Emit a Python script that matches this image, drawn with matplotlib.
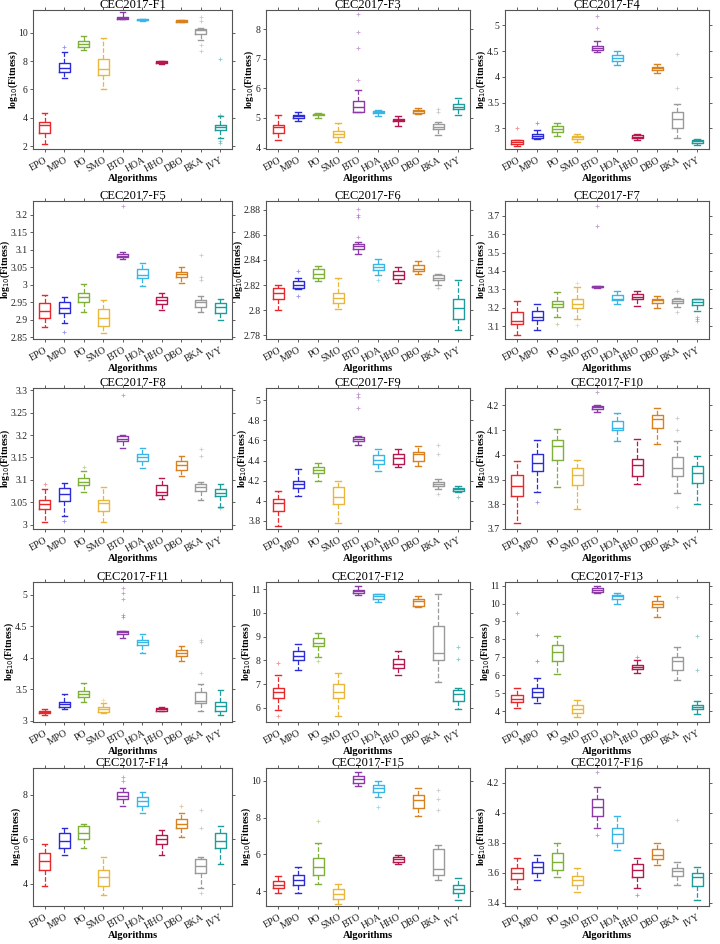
import matplotlib
matplotlib.use("Agg")
import matplotlib.pyplot as plt
from matplotlib.ticker import FormatStrFormatter

plt.rcParams["font.family"] = ["Liberation Serif", "DejaVu Serif"]

ALGOS = ["EPO", "MPO", "PO", "SMO", "BTO", "HOA", "HHO", "DBO", "BKA", "IVY"]
COLORS = ["#e8282b", "#2b2bd8", "#7fb03a", "#e9b83a", "#8b3aa8",
          "#39b5e6", "#b5174e", "#d9811e", "#9a9a9a", "#1e9b9b"]

# per algorithm: (whisker low, q1, median, q3, whisker high)
F1_BOX = [(2.17, 2.93, 3.46, 3.7, 4.32), (6.8, 7.24, 7.54, 7.85, 8.63), (8.76, 9.0, 9.2, 9.39, 9.8),
          (6.02, 7.02, 7.41, 8.17, 9.6), (11.0, 11.0, 11.05, 11.1, 11.44), (10.8, 10.86, 10.9, 10.95, 11.0),
          (7.78, 7.88, 7.95, 8.0, 8.02), (10.75, 10.78, 10.82, 10.86, 10.88), (9.49, 9.88, 10.17, 10.25, 10.3),
          (2.6, 3.15, 3.34, 3.49, 4.1)]
F1_OUT = [[], [9.0], [], [], [], [], [], [], [11.1, 10.8, 9.1, 8.7], [8.17, 4.2, 2.36, 2.25]]

F3_BOX = [(4.26, 4.5, 4.69, 4.76, 5.11), (4.91, 5.01, 5.07, 5.11, 5.21), (5.0, 5.09, 5.13, 5.15, 5.18),
          (4.2, 4.36, 4.47, 4.56, 4.83), (5.2, 5.21, 5.36, 5.58, 5.95), (5.05, 5.16, 5.19, 5.22, 5.27),
          (4.72, 4.88, 4.93, 4.98, 5.08), (5.12, 5.18, 5.22, 5.26, 5.33), (4.44, 4.62, 4.7, 4.78, 4.85),
          (5.1, 5.31, 5.38, 5.47, 5.68)]
F3_OUT = [[], [], [], [], [6.28, 7.37, 7.9, 8.5], [], [], [], [5.2, 5.3], []]

F4_BOX = [(2.65, 2.69, 2.73, 2.77, 2.78), (2.79, 2.82, 2.86, 2.9, 2.96), (2.86, 2.93, 2.99, 3.04, 3.1),
          (2.74, 2.79, 2.83, 2.86, 2.9), (4.49, 4.53, 4.57, 4.61, 4.69), (4.24, 4.3, 4.36, 4.43, 4.5),
          (2.77, 2.81, 2.84, 2.88, 2.89), (4.08, 4.13, 4.17, 4.2, 4.25), (2.81, 3.01, 3.18, 3.31, 3.47),
          (2.68, 2.72, 2.75, 2.78, 2.79)]
F4_OUT = [[3.01], [3.1], [], [], [4.95, 5.18], [], [], [], [3.78, 4.45], []]

F5_BOX = [(2.878, 2.905, 2.926, 2.948, 2.972), (2.89, 2.918, 2.935, 2.95, 2.965), (2.922, 2.952, 2.966, 2.978, 3.002),
          (2.862, 2.882, 2.906, 2.932, 2.958), (3.075, 3.08, 3.084, 3.088, 3.094), (2.996, 3.02, 3.028, 3.045, 3.062),
          (2.927, 2.945, 2.956, 2.965, 2.977), (3.005, 3.022, 3.03, 3.037, 3.05), (2.922, 2.937, 2.95, 2.958, 2.968),
          (2.9, 2.92, 2.936, 2.948, 2.96)]
F5_OUT = [[], [2.866], [], [], [3.225], [], [], [], [3.015, 3.022, 3.085], []]

F6_BOX = [(2.8, 2.809, 2.814, 2.818, 2.82), (2.817, 2.818, 2.82, 2.823, 2.826), (2.823, 2.826, 2.829, 2.833, 2.835),
          (2.801, 2.806, 2.81, 2.814, 2.826), (2.845, 2.849, 2.851, 2.853, 2.854), (2.828, 2.832, 2.834, 2.837, 2.841),
          (2.822, 2.825, 2.828, 2.831, 2.834), (2.829, 2.831, 2.833, 2.836, 2.839), (2.82, 2.824, 2.826, 2.828, 2.829),
          (2.784, 2.793, 2.802, 2.809, 2.824)]
F6_OUT = [[], [2.811, 2.831], [], [], [2.858, 2.874, 2.876, 2.881], [2.824], [], [], [2.818, 2.843, 2.847], []]

F7_BOX = [(3.05, 3.11, 3.13, 3.175, 3.235), (3.08, 3.135, 3.15, 3.18, 3.22), (3.15, 3.205, 3.22, 3.235, 3.285),
          (3.14, 3.2, 3.22, 3.25, 3.31), (3.305, 3.31, 3.315, 3.318, 3.32), (3.22, 3.24, 3.25, 3.27, 3.29),
          (3.21, 3.25, 3.26, 3.275, 3.29), (3.2, 3.225, 3.24, 3.25, 3.265), (3.205, 3.225, 3.235, 3.245, 3.255),
          (3.18, 3.215, 3.23, 3.245, 3.25)]
F7_OUT = [[], [], [3.11], [3.105, 3.335], [3.645, 3.755], [], [], [], [3.175, 3.29], [3.13, 3.14, 3.15]]

F8_BOX = [(3.005, 3.035, 3.045, 3.055, 3.08), (3.018, 3.052, 3.068, 3.082, 3.092), (3.072, 3.088, 3.096, 3.103, 3.12),
          (3.006, 3.03, 3.047, 3.055, 3.083), (3.17, 3.186, 3.192, 3.197, 3.201), (3.127, 3.143, 3.15, 3.157, 3.172),
          (3.058, 3.066, 3.073, 3.088, 3.104), (3.108, 3.122, 3.132, 3.142, 3.153), (3.055, 3.076, 3.084, 3.091, 3.095),
          (3.04, 3.063, 3.07, 3.079, 3.09)]
F8_OUT = [[3.09], [3.008], [3.128], [], [3.29], [], [], [], [3.152, 3.168], [3.038]]

F9_BOX = [(3.75, 3.9, 3.98, 4.02, 4.1), (4.05, 4.13, 4.17, 4.2, 4.32), (4.2, 4.28, 4.31, 4.34, 4.38),
          (3.78, 3.97, 4.04, 4.14, 4.2), (4.55, 4.59, 4.61, 4.63, 4.64), (4.3, 4.37, 4.41, 4.45, 4.51),
          (4.34, 4.37, 4.42, 4.46, 4.51), (4.35, 4.4, 4.46, 4.48, 4.54), (4.12, 4.15, 4.17, 4.19, 4.22),
          (4.09, 4.1, 4.12, 4.13, 4.15)]
F9_OUT = [[], [], [], [], [4.92, 5.03, 5.06], [], [], [], [4.07, 4.46, 4.55], [4.04]]

F10_BOX = [(3.725, 3.832, 3.873, 3.917, 3.975), (3.85, 3.935, 3.968, 4.005, 4.06), (3.868, 3.978, 4.035, 4.058, 4.103),
           (3.78, 3.878, 3.918, 3.945, 3.977), (4.172, 4.185, 4.193, 4.198, 4.203), (4.055, 4.1, 4.11, 4.138, 4.17),
           (3.88, 3.915, 3.96, 3.985, 4.063), (4.042, 4.11, 4.145, 4.16, 4.19), (3.845, 3.915, 3.945, 3.99, 4.057),
           (3.8, 3.885, 3.925, 3.955, 3.995)]
F10_OUT = [[], [3.81], [], [], [4.252], [], [], [], [3.79, 4.1, 4.15], []]

F11_BOX = [(3.09, 3.12, 3.14, 3.16, 3.18), (3.18, 3.22, 3.26, 3.3, 3.42), (3.3, 3.38, 3.42, 3.47, 3.6),
           (3.12, 3.14, 3.18, 3.21, 3.28), (4.31, 4.37, 4.4, 4.43, 4.43), (4.08, 4.2, 4.25, 4.28, 4.38),
           (3.15, 3.16, 3.18, 3.2, 3.22), (3.95, 4.03, 4.08, 4.12, 4.18), (3.15, 3.28, 3.31, 3.45, 3.58),
           (3.09, 3.15, 3.23, 3.3, 3.48)]
F11_OUT = [[], [], [], [3.33], [4.65, 4.68, 4.93, 5.02, 5.1], [], [], [], [3.76, 4.25, 4.28], []]

F12_BOX = [(5.9, 6.4, 6.65, 6.85, 7.4), (7.6, 8.0, 8.2, 8.4, 8.7), (8.15, 8.6, 8.75, 8.95, 9.15),
           (5.65, 6.4, 6.65, 7.0, 7.45), (10.75, 10.85, 10.9, 10.95, 11.12), (10.45, 10.6, 10.7, 10.78, 10.8),
           (7.4, 7.68, 7.85, 8.05, 8.4), (10.25, 10.3, 10.5, 10.6, 10.7), (7.1, 8.0, 8.3, 9.45, 10.8),
           (5.95, 6.3, 6.6, 6.75, 6.85)]
F12_OUT = [[5.65, 7.9], [], [7.95], [], [], [], [], [], [], [8.05, 8.55]]

F13_BOX = [(4.2, 4.5, 4.7, 4.9, 5.3), (4.45, 4.8, 5.05, 5.3, 5.85), (6.1, 6.8, 7.3, 7.7, 8.2),
           (3.7, 3.9, 4.1, 4.35, 4.65), (10.6, 10.65, 10.75, 10.85, 11.0), (9.95, 10.25, 10.4, 10.5, 10.6),
           (6.15, 6.35, 6.45, 6.6, 6.85), (9.25, 9.8, 9.95, 10.15, 10.4), (5.75, 6.3, 6.8, 7.0, 7.6),
           (3.85, 4.1, 4.25, 4.35, 4.55)]
F13_OUT = [[9.45], [6.8, 8.25], [], [], [], [], [7.0], [], [10.35], [6.3, 8.2]]

F14_BOX = [(3.9, 4.6, 5.0, 5.4, 5.8), (5.3, 5.6, 5.9, 6.3, 6.5), (5.6, 6.0, 6.3, 6.6, 6.7),
           (3.5, 3.9, 4.3, 4.6, 5.2), (7.5, 7.8, 7.95, 8.1, 8.3), (7.2, 7.5, 7.7, 7.9, 8.1),
           (5.3, 5.8, 6.0, 6.2, 6.4), (6.1, 6.5, 6.7, 6.9, 7.2), (3.8, 4.5, 4.8, 5.1, 5.2),
           (4.9, 5.6, 5.9, 6.3, 6.6)]
F14_OUT = [[], [], [], [], [8.6, 8.8], [], [], [7.5], [3.6, 6.5, 7.3], []]

F15_BOX = [(3.9, 4.2, 4.35, 4.55, 4.85), (3.9, 4.35, 4.6, 4.9, 5.3), (4.4, 4.9, 5.3, 5.8, 6.6),
           (3.3, 3.6, 3.85, 4.1, 4.4), (9.7, 9.9, 10.1, 10.25, 10.5), (9.1, 9.4, 9.6, 9.8, 10.0),
           (5.5, 5.6, 5.75, 5.85, 5.95), (8.1, 8.5, 8.95, 9.25, 9.6), (4.6, 4.9, 5.2, 6.3, 6.5),
           (3.5, 3.9, 4.1, 4.35, 4.7)]
F15_OUT = [[], [], [7.8], [], [], [8.6], [], [], [8.4, 9.0, 9.5], []]

F16_BOX = [(3.49, 3.56, 3.6, 3.63, 3.7), (3.55, 3.6, 3.64, 3.67, 3.72), (3.57, 3.62, 3.67, 3.73, 3.8),
           (3.47, 3.52, 3.55, 3.58, 3.63), (3.9, 3.98, 4.04, 4.09, 4.17), (3.75, 3.8, 3.86, 3.9, 3.98),
           (3.5, 3.57, 3.62, 3.66, 3.7), (3.65, 3.69, 3.72, 3.76, 3.8), (3.52, 3.58, 3.61, 3.63, 3.67),
           (3.42, 3.51, 3.57, 3.6, 3.64)]
F16_OUT = [[], [], [], [], [3.85, 4.27], [], [3.45], [], [3.95], []]

PANELS = [
    ("CEC2017-F1", F1_BOX, F1_OUT, (1.8, 11.6), [2, 4, 6, 8, 10]),
    ("CEC2017-F3", F3_BOX, F3_OUT, (3.95, 8.65), [4, 5, 6, 7, 8]),
    ("CEC2017-F4", F4_BOX, F4_OUT, (2.6, 5.3), [3, 3.5, 4, 4.5, 5]),
    ("CEC2017-F5", F5_BOX, F5_OUT, (2.845, 3.24), [2.85, 2.9, 2.95, 3, 3.05, 3.1, 3.15, 3.2]),
    ("CEC2017-F6", F6_BOX, F6_OUT, (2.777, 2.887), [2.78, 2.8, 2.82, 2.84, 2.86, 2.88]),
    ("CEC2017-F7", F7_BOX, F7_OUT, (3.03, 3.78), [3.1, 3.2, 3.3, 3.4, 3.5, 3.6, 3.7]),
    ("CEC2017-F8", F8_BOX, F8_OUT, (2.99, 3.305), [3, 3.05, 3.1, 3.15, 3.2, 3.25, 3.3]),
    ("CEC2017-F9", F9_BOX, F9_OUT, (3.72, 5.12), [3.8, 4, 4.2, 4.4, 4.6, 4.8, 5]),
    ("CEC2017-F10", F10_BOX, F10_OUT, (3.7, 4.27), [3.7, 3.8, 3.9, 4, 4.1, 4.2]),
    ("CEC2017-F11", F11_BOX, F11_OUT, (2.98, 5.2), [3, 3.5, 4, 4.5, 5]),
    ("CEC2017-F12", F12_BOX, F12_OUT, (5.4, 11.3), [6, 7, 8, 9, 10, 11]),
    ("CEC2017-F13", F13_BOX, F13_OUT, (3.4, 11.2), [4, 5, 6, 7, 8, 9, 10, 11]),
    ("CEC2017-F14", F14_BOX, F14_OUT, (3.0, 9.2), [4, 6, 8]),
    ("CEC2017-F15", F15_BOX, F15_OUT, (3.2, 10.7), [4, 6, 8, 10]),
    ("CEC2017-F16", F16_BOX, F16_OUT, (3.38, 4.3), [3.4, 3.6, 3.8, 4, 4.2]),
]

W, H = 720, 944
COL_X = [(33, 232), (266, 470), (505, 709)]
ROW_Y = [(10, 149), (201, 339), (388, 529), (582, 722), (768, 906)]

fig = plt.figure(figsize=(W / 100, H / 100), dpi=100)

for k, (title, box, out, ylim, yticks) in enumerate(PANELS):
    r, c = divmod(k, 3)
    x0, x1 = COL_X[c]
    y0, y1 = ROW_Y[r]
    ax = fig.add_axes([x0 / W, 1 - y1 / H, (x1 - x0) / W, (y1 - y0) / H])

    stats = [dict(whislo=b[0], q1=b[1], med=b[2], q3=b[3], whishi=b[4], fliers=o)
             for b, o in zip(box, out)]
    arts = ax.bxp(stats, positions=range(1, 11), widths=0.55, showfliers=True,
                  patch_artist=False, manage_ticks=False)
    for i, col in enumerate(COLORS):
        arts["boxes"][i].set(color=col, linewidth=1.0)
        arts["medians"][i].set(color=col, linewidth=1.0)
        for w in arts["whiskers"][2 * i:2 * i + 2]:
            w.set(color=col, linestyle="--", linewidth=0.9)
        for cp in arts["caps"][2 * i:2 * i + 2]:
            cp.set(color=col, linewidth=1.0)
        arts["fliers"][i].set(marker="+", markeredgecolor=col, markersize=3,
                              alpha=0.5, markeredgewidth=0.6)

    ax.set_xlim(0.4, 10.6)
    ax.set_ylim(*ylim)
    ax.set_yticks(yticks)
    ax.yaxis.set_major_formatter(FormatStrFormatter("%g"))
    ax.set_xticks(range(1, 11))
    ax.set_xticklabels(ALGOS, rotation=30, ha="right", rotation_mode="anchor", fontsize=7)
    ax.tick_params(axis="y", labelsize=7, pad=1.5)
    ax.tick_params(axis="x", pad=2)
    ax.tick_params(direction="out", length=2.5, width=0.6, top=True, right=True,
                   colors="#444444", labelcolor="#222222")
    for s in ax.spines.values():
        s.set_linewidth(0.8)
        s.set_color("#555555")
    ax.set_title(title, fontsize=9, pad=1.5)
    ax.set_xlabel("Algorithms", fontsize=7.5, fontweight="bold", labelpad=0)
    ax.set_ylabel("log$_{10}$(Fitness)", fontsize=7, fontweight="bold")
    # y label sits just left of the tick labels, which vary in width
    nchar = max(len("%g" % t) for t in yticks)
    off_px = {1: 10, 2: 13, 3: 17}.get(nchar, 21)
    ax.yaxis.set_label_coords(-off_px / (x1 - x0), 0.5)

fig.savefig("out.png", dpi=100)
